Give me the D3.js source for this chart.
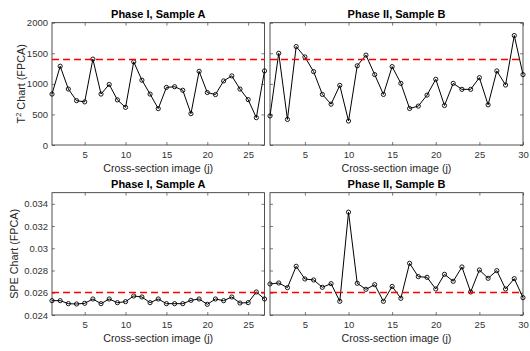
<!DOCTYPE html>
<html>
<head>
<meta charset="utf-8">
<script src="https://cdn.jsdelivr.net/npm/d3@7"></script>
<style>
  body { margin: 0; background: #fff; }
  svg { display: block; font-family: "Liberation Sans", Arial, sans-serif; }
  .tick text { fill: #333; font-size: 9.5px; }
  .tick line { stroke: #262626; stroke-width: 0.6; }
</style>
</head>
<body>
<div id="chart"></div>
<script>
// values
const t2PhaseI = [833, 1288, 915, 725, 705, 1405, 833, 990, 738, 615, 1360, 1060, 833, 595, 942, 953, 895, 512, 1205, 858, 825, 1048, 1130, 915, 742, 447, 1212];
const t2PhaseII = [475, 1500, 418, 1610, 1440, 1200, 827, 668, 975, 392, 1295, 1470, 1151, 827, 1282, 1008, 597, 636, 816, 1075, 646, 1008, 910, 910, 1101, 657, 1211, 981, 1790, 1151];
const spePhaseI = [0.02529, 0.02529, 0.02502, 0.02499, 0.02505, 0.02544, 0.02502, 0.02544, 0.02511, 0.0252, 0.02571, 0.02562, 0.02511, 0.02544, 0.02502, 0.02502, 0.02502, 0.02532, 0.02544, 0.02496, 0.02544, 0.02529, 0.02562, 0.02508, 0.02511, 0.02607, 0.02544];
const spePhaseII = [0.02679, 0.02688, 0.02646, 0.02838, 0.02724, 0.02715, 0.02649, 0.02682, 0.02523, 0.03325, 0.02685, 0.02631, 0.02673, 0.02523, 0.02657, 0.0255, 0.02865, 0.02745, 0.02739, 0.02634, 0.02766, 0.02703, 0.02832, 0.02607, 0.02805, 0.0273, 0.02799, 0.02634, 0.02727, 0.02556];

const t2Limit = 1400;
const speLimit = 0.0261;

const xTicksA = [5, 10, 15, 20, 25];
const xTicksB = [5, 10, 15, 20, 25, 30];
const t2Ticks = [0, 500, 1000, 1500, 2000];
const speTicks = [0.024, 0.026, 0.028, 0.03, 0.032, 0.034];
const speTickLabels = ["0.024", "0.026", "0.028", "0.03", "0.032", "0.034"];

const titles = ["Phase I, Sample A", "Phase II, Sample B"];
const xLabel = "Cross-section image (j)";

const W = 530, H = 351;
const axisColor = "#262626";

const svg = d3.select("#chart").append("svg")
  .attr("width", W)
  .attr("height", H);

// panel boxes (pixels)
const colA = [52, 264.5], colB = [270, 523];
const rowTop = [22.7, 145], rowBot = [192.7, 315];

function panel(cols, rows, values, yDomain, yTicks, yFmt, limit, xTicks, title, showY) {
  const n = values.length;
  const x = d3.scaleLinear().domain([1, n]).range(cols);
  const y = d3.scaleLinear().domain(yDomain).range([rows[1], rows[0]]);
  const g = svg.append("g");

  // bottom axis, inward ticks
  g.append("g")
    .attr("transform", "translate(0," + rows[1] + ")")
    .call(d3.axisBottom(x).tickValues(xTicks).tickSizeInner(-3).tickSizeOuter(0).tickPadding(6));
  // top axis, ticks only
  g.append("g")
    .attr("transform", "translate(0," + rows[0] + ")")
    .call(d3.axisTop(x).tickValues(xTicks).tickSizeInner(-3).tickSizeOuter(0).tickFormat(""));
  // left axis
  g.append("g")
    .attr("transform", "translate(" + cols[0] + ",0)")
    .call(d3.axisLeft(y).tickValues(yTicks).tickSizeInner(-3).tickSizeOuter(0).tickPadding(4)
      .tickFormat(showY ? yFmt : ""));
  // right axis, ticks only
  g.append("g")
    .attr("transform", "translate(" + cols[1] + ",0)")
    .call(d3.axisRight(y).tickValues(yTicks).tickSizeInner(-3).tickSizeOuter(0).tickFormat(""));
  g.selectAll(".domain").remove();

  // box
  g.append("rect")
    .attr("x", cols[0]).attr("y", rows[0])
    .attr("width", cols[1] - cols[0]).attr("height", rows[1] - rows[0])
    .attr("fill", "none").attr("stroke", axisColor).attr("stroke-width", 0.8);

  const line = d3.line()
    .x((d, i) => x(i + 1))
    .y(d => y(d));

  g.append("path")
    .datum(values)
    .attr("d", line)
    .attr("fill", "none")
    .attr("stroke", "#000")
    .attr("stroke-width", 1);

  g.selectAll("circle.pt")
    .data(values)
    .enter().append("circle")
    .attr("class", "pt")
    .attr("cx", (d, i) => x(i + 1))
    .attr("cy", d => y(d))
    .attr("r", 2.1)
    .attr("fill", "none")
    .attr("stroke", "#000")
    .attr("stroke-width", 0.9);

  // control limit, on top of the series
  const ly = Math.round(y(limit)) + 0.5;
  g.append("line")
    .attr("x1", cols[0]).attr("x2", cols[1])
    .attr("y1", ly).attr("y2", ly)
    .attr("stroke", "#ff0000").attr("stroke-width", 1.3)
    .attr("stroke-dasharray", "7,4");

  // title
  g.append("text")
    .attr("x", (cols[0] + cols[1]) / 2)
    .attr("y", rows[0] - 5)
    .attr("text-anchor", "middle")
    .attr("font-size", "11px")
    .attr("font-weight", "bold")
    .attr("fill", "#000")
    .text(title);

  // x label
  g.append("text")
    .attr("x", (cols[0] + cols[1]) / 2)
    .attr("y", rows[1] + 26.5)
    .attr("text-anchor", "middle")
    .attr("font-size", "10.7px")
    .attr("fill", axisColor)
    .text(xLabel);

  return y;
}

panel(colA, rowTop, t2PhaseI, [0, 2000], t2Ticks, d3.format("d"), t2Limit, xTicksA, titles[0], true);
panel(colB, rowTop, t2PhaseII, [0, 2000], t2Ticks, d3.format("d"), t2Limit, xTicksB, titles[1], false);
panel(colA, rowBot, spePhaseI, [0.024, 0.035], speTicks, (d, i) => speTickLabels[i], speLimit, xTicksA, titles[0], true);
panel(colB, rowBot, spePhaseII, [0.024, 0.035], speTicks, (d, i) => speTickLabels[i], speLimit, xTicksB, titles[1], false);

// y labels
const t2Lab = svg.append("text")
  .attr("transform", "translate(25," + ((rowTop[0] + rowTop[1]) / 2) + ") rotate(-90)")
  .attr("text-anchor", "middle")
  .attr("font-size", "10.8px")
  .attr("fill", axisColor);
t2Lab.append("tspan").text("T");
t2Lab.append("tspan").attr("font-size", "7.5px").attr("dy", -4.5).text("2");
t2Lab.append("tspan").attr("dy", 4.5).text(" Chart (FPCA)");

svg.append("text")
  .attr("transform", "translate(18," + ((rowBot[0] + rowBot[1]) / 2) + ") rotate(-90)")
  .attr("text-anchor", "middle")
  .attr("font-size", "10.8px")
  .attr("fill", axisColor)
  .text("SPE Chart (FPCA)");
</script>
</body>
</html>
